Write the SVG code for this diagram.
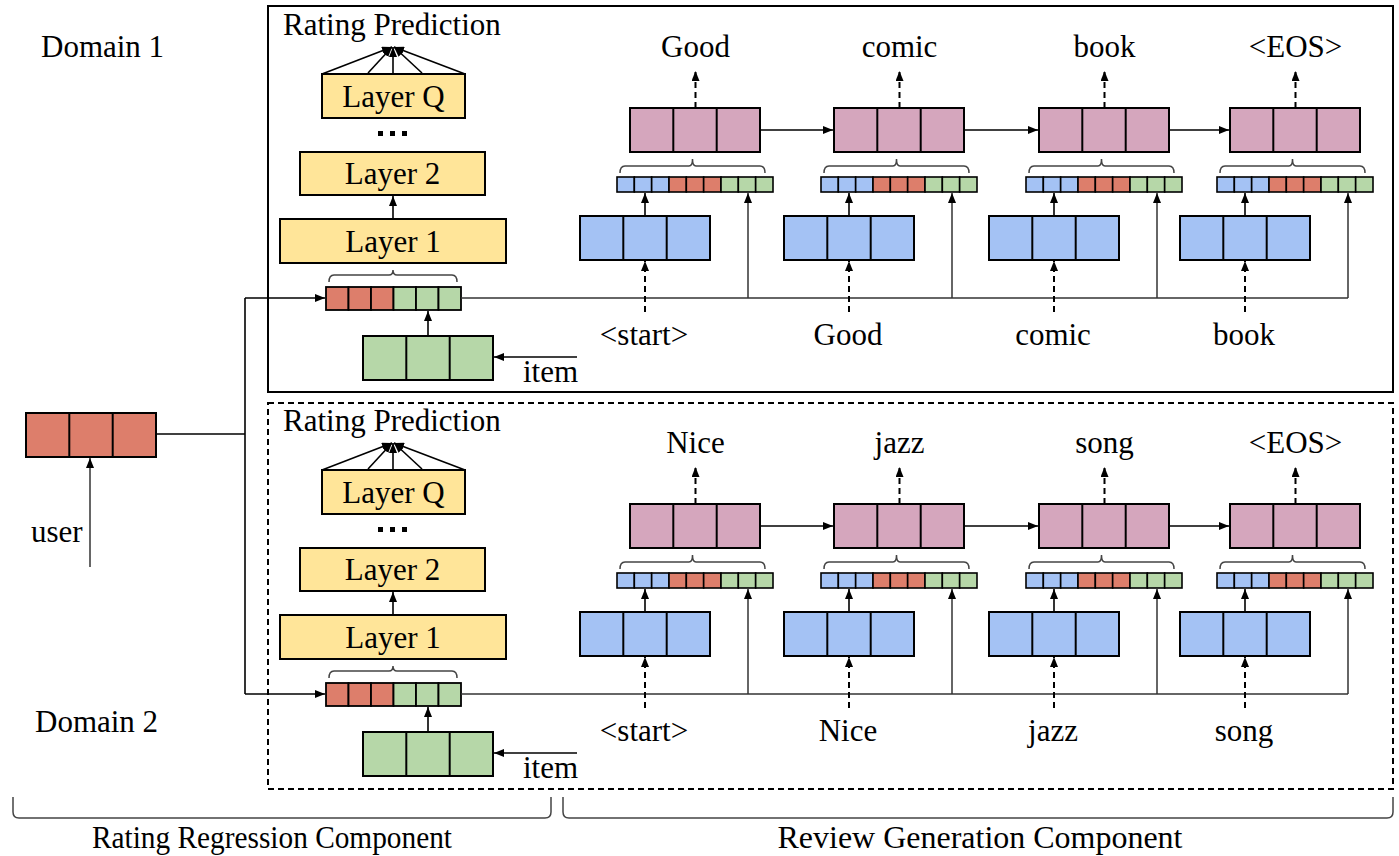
<svg xmlns="http://www.w3.org/2000/svg" xmlns:xlink="http://www.w3.org/1999/xlink" width="1399" height="856" viewBox="0 0 1399 856">
<style>
text{font-family:"Liberation Serif","Times New Roman",serif;font-size:31px;fill:#000}
.c{text-anchor:middle}
.bx{stroke:#000;stroke-width:2}
.red{fill:#DD7E6B}.grn{fill:#B6D7A8}.blu{fill:#A4C2F4}.pnk{fill:#D5A6BD}.yel{fill:#FFE599}
.ln{stroke:#000;stroke-width:1.6;fill:none}
.gl{stroke:#333;stroke-width:1.5;fill:none}
.ds{stroke:#000;stroke-width:2;fill:none;stroke-dasharray:6,4}
.br{stroke:#444;stroke-width:1.5;fill:none}
</style>
<defs>
<marker id="ah" markerUnits="userSpaceOnUse" markerWidth="10" markerHeight="8" refX="10" refY="4" orient="auto"><path d="M0,0 L10,4 L0,8 z" fill="#000"/></marker>
<g id="b3" stroke="#000" stroke-width="2"><rect x="0" y="0" width="130" height="44"/><line x1="43.3" y1="0" x2="43.3" y2="44"/><line x1="86.7" y1="0" x2="86.7" y2="44"/></g>
<g id="sv" stroke="#000" stroke-width="1.6">
<rect x="0" y="0" width="17.33" height="15" fill="#A4C2F4"/><rect x="17.33" y="0" width="17.33" height="15" fill="#A4C2F4"/><rect x="34.67" y="0" width="17.33" height="15" fill="#A4C2F4"/>
<rect x="52" y="0" width="17.33" height="15" fill="#DD7E6B"/><rect x="69.33" y="0" width="17.33" height="15" fill="#DD7E6B"/><rect x="86.67" y="0" width="17.33" height="15" fill="#DD7E6B"/>
<rect x="104" y="0" width="17.33" height="15" fill="#B6D7A8"/><rect x="121.33" y="0" width="17.33" height="15" fill="#B6D7A8"/><rect x="138.67" y="0" width="17.33" height="15" fill="#B6D7A8"/>
</g>
<g id="cv" stroke="#000" stroke-width="1.8">
<rect x="0" y="0" width="22.5" height="23" fill="#DD7E6B"/><rect x="22.5" y="0" width="22.5" height="23" fill="#DD7E6B"/><rect x="45" y="0" width="22.5" height="23" fill="#DD7E6B"/>
<rect x="67.5" y="0" width="22.5" height="23" fill="#B6D7A8"/><rect x="90" y="0" width="22.5" height="23" fill="#B6D7A8"/><rect x="112.5" y="0" width="22.5" height="23" fill="#B6D7A8"/>
</g>
<path id="brs" d="M3,14 Q3,7 8,7 L72,7 Q75.5,7 75.5,0 Q75.5,7 79,7 L143,7 Q148,7 148,14" stroke="#444" stroke-width="1.5" fill="none"/>
<path id="brc" d="M3,12 Q3,5 8,5 L63,5 Q67,5 67,0 Q67,5 71,5 L126,5 Q131,5 131,12" stroke="#444" stroke-width="1.5" fill="none"/>
</defs>
<rect width="1399" height="856" fill="#fff"/>

<g id="labels">
<text x="41" y="57">Domain 1</text>
<text x="35" y="732">Domain 2</text>
<text x="31" y="542">user</text>
</g>

<g id="domain1-frame"><rect x="268" y="6" width="1125" height="386" fill="none" stroke="#000" stroke-width="2"/></g>
<g id="domain2-frame"><rect x="268" y="403" width="1125" height="386" class="ds"/></g>

<g id="user-vec"><use href="#b3" x="26" y="413" class="red"/></g>

<g id="domain1">
<g id="d1-rating-title"><text x="283" y="35">Rating Prediction</text></g>
<g id="d1-layerQ"><rect x="322" y="74" width="143" height="44" class="yel bx"/><text x="393.5" y="107" class="c">Layer Q</text></g>
<g id="d1-dots" fill="#000"><rect x="378" y="131" width="5" height="5"/><rect x="390" y="131" width="5" height="5"/><rect x="402" y="131" width="5" height="5"/></g>
<g id="d1-layer2"><rect x="300" y="152" width="185" height="43" class="yel bx"/><text x="392.5" y="184" class="c">Layer 2</text></g>
<g id="d1-layer1"><rect x="280" y="219" width="226" height="44" class="yel bx"/><text x="393" y="252" class="c">Layer 1</text></g>
<g id="d1-concat"><use href="#brc" x="326" y="270"/><use href="#cv" x="326" y="287"/></g>
<g id="d1-item"><use href="#b3" x="363" y="336" class="grn"/><text x="523" y="382">item</text></g>
<g id="d1-cell1"><use href="#b3" x="630" y="108" class="pnk"/><use href="#brs" x="617" y="159"/><use href="#sv" x="617" y="177"/><use href="#b3" x="580" y="216" class="blu"/><text x="695.5" y="57" class="c">Good</text><text x="644" y="345" class="c">&lt;start&gt;</text></g>
<g id="d1-cell2"><use href="#b3" x="834" y="108" class="pnk"/><use href="#brs" x="821" y="159"/><use href="#sv" x="821" y="177"/><use href="#b3" x="784" y="216" class="blu"/><text x="899.5" y="57" class="c">comic</text><text x="848" y="345" class="c">Good</text></g>
<g id="d1-cell3"><use href="#b3" x="1039" y="108" class="pnk"/><use href="#brs" x="1026" y="159"/><use href="#sv" x="1026" y="177"/><use href="#b3" x="989" y="216" class="blu"/><text x="1104.5" y="57" class="c">book</text><text x="1053" y="345" class="c">comic</text></g>
<g id="d1-cell4"><use href="#b3" x="1230" y="108" class="pnk"/><use href="#brs" x="1217" y="159"/><use href="#sv" x="1217" y="177"/><use href="#b3" x="1180" y="216" class="blu"/><text x="1295.5" y="57" class="c">&lt;EOS&gt;</text><text x="1244" y="345" class="c">book</text></g>
</g>

<g id="domain2" transform="translate(0,396)">
<g id="d2-rating-title"><text x="283" y="35">Rating Prediction</text></g>
<g id="d2-layerQ"><rect x="322" y="74" width="143" height="44" class="yel bx"/><text x="393.5" y="107" class="c">Layer Q</text></g>
<g id="d2-dots" fill="#000"><rect x="378" y="131" width="5" height="5"/><rect x="390" y="131" width="5" height="5"/><rect x="402" y="131" width="5" height="5"/></g>
<g id="d2-layer2"><rect x="300" y="152" width="185" height="43" class="yel bx"/><text x="392.5" y="184" class="c">Layer 2</text></g>
<g id="d2-layer1"><rect x="280" y="219" width="226" height="44" class="yel bx"/><text x="393" y="252" class="c">Layer 1</text></g>
<g id="d2-concat"><use href="#brc" x="326" y="270"/><use href="#cv" x="326" y="287"/></g>
<g id="d2-item"><use href="#b3" x="363" y="336" class="grn"/><text x="523" y="382">item</text></g>
<g id="d2-cell1"><use href="#b3" x="630" y="108" class="pnk"/><use href="#brs" x="617" y="159"/><use href="#sv" x="617" y="177"/><use href="#b3" x="580" y="216" class="blu"/><text x="695.5" y="57" class="c">Nice</text><text x="644" y="345" class="c">&lt;start&gt;</text></g>
<g id="d2-cell2"><use href="#b3" x="834" y="108" class="pnk"/><use href="#brs" x="821" y="159"/><use href="#sv" x="821" y="177"/><use href="#b3" x="784" y="216" class="blu"/><text x="899.5" y="57" class="c">jazz</text><text x="848" y="345" class="c">Nice</text></g>
<g id="d2-cell3"><use href="#b3" x="1039" y="108" class="pnk"/><use href="#brs" x="1026" y="159"/><use href="#sv" x="1026" y="177"/><use href="#b3" x="989" y="216" class="blu"/><text x="1104.5" y="57" class="c">song</text><text x="1053" y="345" class="c">jazz</text></g>
<g id="d2-cell4"><use href="#b3" x="1230" y="108" class="pnk"/><use href="#brs" x="1217" y="159"/><use href="#sv" x="1217" y="177"/><use href="#b3" x="1180" y="216" class="blu"/><text x="1295.5" y="57" class="c">&lt;EOS&gt;</text><text x="1244" y="345" class="c">song</text></g>
</g>

<g id="connectors">
<path class="ln" d="M156,434 H245"/>
<path class="ln" d="M245,298 V694"/>
<path class="ln" d="M245,298 H325" marker-end="url(#ah)"/>
<path class="ln" d="M245,694 H325" marker-end="url(#ah)"/>
<path class="gl" d="M90,567 V458" marker-end="url(#ah)"/>
<g id="d1-conn">
<g class="ln" marker-end="url(#ah)">
<path d="M322,74 L392,47"/><path d="M368,73 L392,47"/><path d="M393,74 L393,47"/><path d="M422,73 L394,47"/><path d="M465,74 L394,47"/>
<path d="M393,219 V196"/>
<path d="M428,336 V311"/>
<path d="M577,357 H494"/>
<path d="M761,130 H833"/><path d="M965,130 H1038"/><path d="M1170,130 H1229"/>
<path d="M645,216 V193"/><path d="M849,216 V193"/><path d="M1054,216 V193"/><path d="M1245,216 V193"/>
</g>
<path class="gl" d="M461,298 H1348"/>
<g class="gl" marker-end="url(#ah)"><path d="M748,298 V193"/><path d="M952,298 V193"/><path d="M1157,298 V193"/><path d="M1348,298 V193"/></g>
<g class="ds" stroke-width="1.8" marker-end="url(#ah)">
<path d="M645,312 V261"/><path d="M849,312 V261"/><path d="M1054,312 V261"/><path d="M1245,312 V261"/>
<path d="M695.5,108 V71"/><path d="M899.5,108 V71"/><path d="M1104.5,108 V71"/><path d="M1295.5,108 V71"/>
</g>
</g>
<g id="d2-conn" transform="translate(0,396)">
<g class="ln" marker-end="url(#ah)">
<path d="M322,74 L392,47"/><path d="M368,73 L392,47"/><path d="M393,74 L393,47"/><path d="M422,73 L394,47"/><path d="M465,74 L394,47"/>
<path d="M393,219 V196"/>
<path d="M428,336 V311"/>
<path d="M577,357 H494"/>
<path d="M761,130 H833"/><path d="M965,130 H1038"/><path d="M1170,130 H1229"/>
<path d="M645,216 V193"/><path d="M849,216 V193"/><path d="M1054,216 V193"/><path d="M1245,216 V193"/>
</g>
<path class="gl" d="M461,298 H1348"/>
<g class="gl" marker-end="url(#ah)"><path d="M748,298 V193"/><path d="M952,298 V193"/><path d="M1157,298 V193"/><path d="M1348,298 V193"/></g>
<g class="ds" stroke-width="1.8" marker-end="url(#ah)">
<path d="M645,312 V261"/><path d="M849,312 V261"/><path d="M1054,312 V261"/><path d="M1245,312 V261"/>
<path d="M695.5,108 V71"/><path d="M899.5,108 V71"/><path d="M1104.5,108 V71"/><path d="M1295.5,108 V71"/>
</g>
</g>
</g>

<g id="component-braces">
<path class="br" d="M13,797 V812 Q13,818 19,818 H545 Q551,818 551,812 V797"/>
<path class="br" d="M563,797 V812 Q563,818 569,818 H1387 Q1393,818 1393,812 V797"/>
<text x="272" y="848" class="c" textLength="360" lengthAdjust="spacingAndGlyphs">Rating Regression Component</text>
<text x="980" y="848" class="c" textLength="405" lengthAdjust="spacingAndGlyphs">Review Generation Component</text>
</g>
</svg>
